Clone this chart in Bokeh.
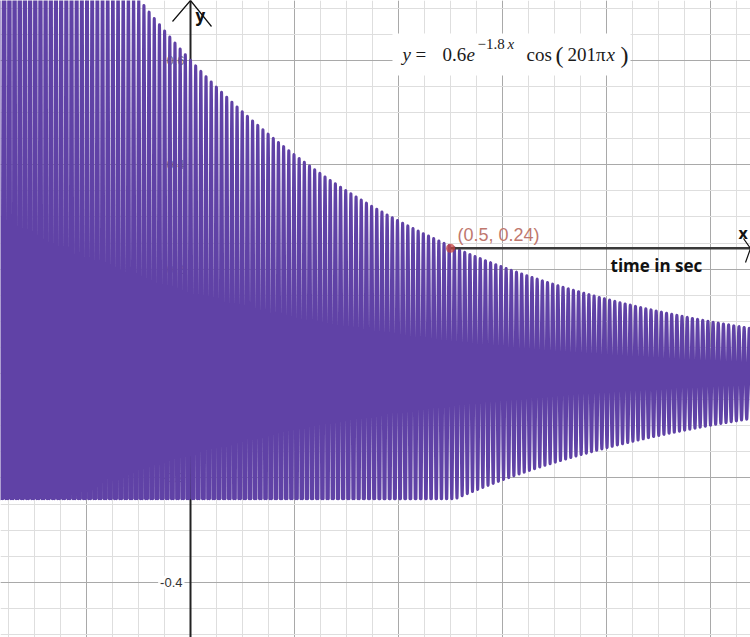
import numpy as np
from bokeh.plotting import figure
from bokeh.models import Range1d, SingleIntervalTicker
from bokeh.core.properties import value
from bokeh.embed import file_html
from bokeh.resources import INLINE

# ---------------- data ----------------
AMPLITUDE = 0.6          # y = 0.6 e^(-1.8x) cos(201 pi x)
DECAY = 1.8
FREQ_PI = 201
Y_FLOOR = -0.24          # lower restriction of the plotted curve
POINT_X = [0.5]
POINT_Y = [0.24]
POINT_LABEL = ["(0.5, 0.24)"]
Y_TICK_VALUES = [0.6, 0.4, 0.2, -0.2]
Y_TICK_LABELS = ["0.6", "0.4", "0.2", "-0.2"]
Y_TICK_VALUES_CLEAR = [-0.4]
Y_TICK_LABELS_CLEAR = ["-0.4"]
GRID_MAJOR = 0.2
GRID_MINOR_DIV = 4

# ---------------- layout helpers (reference pixel -> data) ----------------
X0_PX, X_SCALE = 190.0, 520.0
Y0_PX, Y_SCALE = 373.0, 522.0


def px2x(px):
    return (px - X0_PX) / X_SCALE


def py2y(py):
    return (Y0_PX - py) / Y_SCALE


def pyt(py, fs):
    # alphabetic baseline correction proportional to font size
    return py2y(py - 0.33 * fs)


W, H = 750, 637
p = figure(width=W, height=H,
           x_range=Range1d(px2x(0), px2x(W)),
           y_range=Range1d(py2y(H), py2y(0)),
           x_axis_location=None, y_axis_location=None,
           toolbar_location=None, output_backend="svg", min_border=0)
p.outline_line_color = None
p.background_fill_color = "white"
p.border_fill_color = "white"

for g in list(p.xgrid) + list(p.ygrid):
    g.ticker = SingleIntervalTicker(interval=GRID_MAJOR, num_minor_ticks=GRID_MINOR_DIV)
    g.grid_line_color = "#a9a9a9"
    g.grid_line_width = 1
    g.minor_grid_line_color = "#dedede"
    g.minor_grid_line_width = 1

# y tick labels (those under the curve, then the clear one with halo)
tick_style = dict(text_align="right", text_baseline="middle",
                  text_font=value("Liberation Sans"), text_font_size="13px",
                  text_color="#333333")
p.text(x=[px2x(184)] * len(Y_TICK_VALUES), y=Y_TICK_VALUES, text=Y_TICK_LABELS,
       text_alpha=0.7, **tick_style)
p.text(x=[px2x(184)] * len(Y_TICK_VALUES_CLEAR), y=Y_TICK_VALUES_CLEAR,
       text=Y_TICK_LABELS_CLEAR, background_fill_color="white",
       background_fill_alpha=0.9, padding=2, **tick_style)

# y axis
p.line(x=[0, 0], y=[py2y(-5), py2y(H + 5)], line_color="#222222", line_width=2)

# ---------------- curve ----------------
xs = np.linspace(px2x(-2), px2x(W + 2), 16000)
ys = AMPLITUDE * np.exp(-DECAY * xs) * np.cos(FREQ_PI * np.pi * xs)
keep = ys >= Y_FLOOR
cx, cy = [], []
n = len(xs)
for i in range(n):
    if keep[i]:
        if i > 0 and not keep[i - 1]:
            t = (Y_FLOOR - ys[i - 1]) / (ys[i] - ys[i - 1])
            cx.append(xs[i - 1] + t * (xs[i] - xs[i - 1]))
            cy.append(Y_FLOOR)
        cx.append(xs[i])
        cy.append(ys[i])
        if i < n - 1 and not keep[i + 1]:
            t = (Y_FLOOR - ys[i]) / (ys[i + 1] - ys[i])
            cx.append(xs[i] + t * (xs[i + 1] - xs[i]))
            cy.append(Y_FLOOR)
            cx.append(np.nan)
            cy.append(np.nan)

p.line(x=cx, y=cy, line_color="#6042a6", line_width=3,
       line_cap="round", line_join="round")

# y axis arrow head
p.line(x=[px2x(172), px2x(190), px2x(211)], y=[py2y(21), py2y(0), py2y(26)],
       line_color="#111111", line_width=1.2)

# drawn "time" axis at the marked point
p.line(x=[POINT_X[0], px2x(W + 2)], y=[POINT_Y[0], POINT_Y[0]],
       line_color="#3a3a3a", line_width=2.5)
p.line(x=[px2x(743), px2x(750), px2x(745)], y=[py2y(238), py2y(248), py2y(262)],
       line_color="#111111", line_width=1.2)

# marked point
p.scatter(x=POINT_X, y=POINT_Y, size=9, fill_color="#c74440", fill_alpha=0.75,
          line_color=None)
p.text(x=[px2x(457)], y=[pyt(240, 18)], text=POINT_LABEL,
       text_align="left", text_baseline="alphabetic",
       text_font=value("Liberation Sans"), text_font_size="18px", text_color="#bf786e")

# axis words
bold = dict(text_font=value("Open Sans"), text_font_style="bold",
            text_color="#111111", text_baseline="alphabetic", text_align="left")
p.text(x=[px2x(610)], y=[pyt(271, 17)], text=["time in sec"], text_font_size="17px", **bold)
p.text(x=[px2x(195)], y=[pyt(21, 17)], text=["y"], text_font_size="17px", **bold)
p.text(x=[px2x(738)], y=[pyt(238, 16)], text=["x"], text_font_size="16px", **bold)

# formula box
p.quad(left=[px2x(392)], right=[px2x(630)], top=[py2y(33)], bottom=[py2y(75)],
       fill_color="white", line_color=None)

pieces = [
    ("y", 402, 60, 19, "italic"),
    ("=", 415, 60, 19, "normal"),
    ("0.6", 442, 60, 19, "normal"),
    ("e", 466, 60, 19, "italic"),
    ("\u22121.8", 477, 48, 15, "normal"),
    ("x", 507, 48, 15, "italic"),
    ("cos", 526, 60, 19, "normal"),
    ("(", 555, 62, 24, "normal"),
    ("201\u03c0", 567, 60, 19, "normal"),
    ("x", 606, 60, 19, "italic"),
    (")", 620, 62, 24, "normal"),
]
for txt, lx, by, fs, st in pieces:
    p.text(x=[px2x(lx)], y=[pyt(by, fs)], text=[txt], text_align="left",
           text_baseline="alphabetic", text_font=value("Liberation Serif"),
           text_font_size=f"{fs}px", text_font_style=st, text_color="#1a1a1a")

open("out.html", "w").write(file_html(p, INLINE))
